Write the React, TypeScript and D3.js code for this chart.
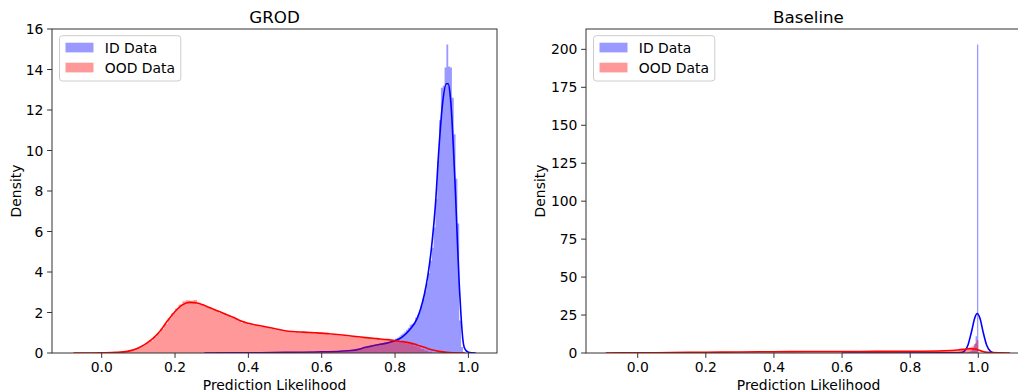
import React from "react";
import * as d3 from "d3";

// ---------- DATA ----------
const legendLabels = ["ID Data", "OOD Data"];
const xTicks = [0, 0.2, 0.4, 0.6, 0.8, 1.0];
const grodYTicks = [0, 2, 4, 6, 8, 10, 12, 14, 16];
const baseYTicks = [0, 25, 50, 75, 100, 125, 150, 175, 200];

// GROD: ID histogram (two segments with different bin widths)
const grodIdLowStart = 0.28;
const grodIdLowWidth = 0.01;
const grodIdLow = [
  0.01, 0.01, 0.0, 0.01, 0.02, 0.01, 0.01, 0.02, 0.01, 0.02,
  0.02, 0.01, 0.02, 0.02, 0.03, 0.02, 0.02, 0.03, 0.03, 0.02,
  0.03, 0.04, 0.03, 0.04, 0.05, 0.04, 0.05, 0.05, 0.06, 0.05,
  0.06, 0.07, 0.06, 0.08, 0.08, 0.09, 0.1, 0.11, 0.12, 0.14, 0.16, 0.18,
];
const grodIdHighStart = 0.7;
const grodIdHighWidth = 0.005;
const grodIdHigh = [
  0.22, 0.25, 0.28, 0.3, 0.33, 0.36, 0.38, 0.41, 0.4, 0.43,
  0.45, 0.47, 0.46, 0.5, 0.52, 0.51, 0.56, 0.58, 0.62, 0.66,
  0.7, 0.75, 0.82, 0.9, 0.96, 1.05, 1.15, 1.25, 1.4, 1.45,
  1.5, 1.75, 1.85, 2.05, 2.35, 2.7, 3.05, 3.45, 3.95, 4.55,
  5.2, 6.2, 7.6, 9.5, 11.5, 13.1, 13.2, 14.1, 15.24, 14.15,
  14.1, 12.6, 10.8, 8.6, 6.4, 1.6, 0.3, 0.06, 0.02, 0.0,
];
// GROD: OOD histogram
const grodOodStart = 0.0;
const grodOodWidth = 0.01;
const grodOod = [
  0.01, 0.01, 0.02, 0.02, 0.03, 0.05, 0.06, 0.1, 0.14, 0.2,
  0.28, 0.38, 0.5, 0.62, 0.8, 0.98, 1.2, 1.45, 1.72, 1.98,
  2.2, 2.4, 2.55, 2.6, 2.58, 2.62, 2.5, 2.42, 2.28, 2.25,
  2.12, 2.1, 1.98, 1.95, 1.85, 1.75, 1.72, 1.6, 1.5, 1.48,
  1.42, 1.36, 1.38, 1.3, 1.28, 1.25, 1.2, 1.15, 1.12, 1.08,
  1.06, 1.07, 1.02, 1.05, 1.0, 1.02, 0.98, 1.0, 0.96, 0.97,
  0.94, 0.95, 0.9, 0.92, 0.88, 0.86, 0.85, 0.82, 0.8, 0.8,
  0.77, 0.76, 0.73, 0.72, 0.7, 0.68, 0.66, 0.64, 0.62, 0.6,
  0.57, 0.55, 0.52, 0.48, 0.44, 0.36, 0.28, 0.2, 0.12, 0.06,
];
// GROD KDE curves
const grodIdKdeX = [0.28, 0.4, 0.5, 0.6, 0.65, 0.68, 0.7, 0.72, 0.74, 0.76, 0.78, 0.8, 0.82, 0.84, 0.86, 0.87, 0.88, 0.89, 0.9, 0.91, 0.92, 0.93, 0.94, 0.945, 0.95, 0.955, 0.96, 0.965, 0.97, 0.975, 0.98, 0.985, 0.99, 1.0, 1.02];
const grodIdKdeY = [0.0, 0.01, 0.03, 0.06, 0.09, 0.12, 0.18, 0.28, 0.36, 0.43, 0.5, 0.6, 0.8, 1.15, 1.7, 2.2, 2.9, 3.9, 5.3, 7.3, 10.2, 12.4, 13.3, 13.3, 12.8, 11.6, 9.8, 7.8, 5.5, 3.4, 1.8, 0.65, 0.22, 0.04, 0.0];
const grodOodKdeX = [-0.077, -0.04, 0.0, 0.04, 0.07, 0.1, 0.12, 0.14, 0.16, 0.18, 0.2, 0.22, 0.24, 0.26, 0.28, 0.3, 0.32, 0.34, 0.36, 0.38, 0.4, 0.42, 0.44, 0.46, 0.48, 0.5, 0.52, 0.55, 0.58, 0.6, 0.62, 0.65, 0.68, 0.7, 0.72, 0.75, 0.78, 0.8, 0.82, 0.84, 0.86, 0.88, 0.9, 0.92, 0.94, 0.96, 0.99];
const grodOodKdeY = [0.0, 0.0, 0.01, 0.03, 0.08, 0.25, 0.45, 0.72, 1.1, 1.6, 2.05, 2.38, 2.5, 2.47, 2.35, 2.2, 2.05, 1.9, 1.75, 1.58, 1.47, 1.38, 1.32, 1.25, 1.17, 1.1, 1.06, 1.03, 1.0, 0.98, 0.95, 0.9, 0.84, 0.8, 0.76, 0.71, 0.66, 0.61, 0.56, 0.5, 0.4, 0.28, 0.16, 0.08, 0.03, 0.01, 0.0];

// Baseline histograms
const baseIdStart = 0.96;
const baseIdWidth = 0.004;
const baseId = [0.2, 0.3, 0.5, 0.8, 1.2, 2.0, 3.5, 6.0, 11.0, 203.2];
const baseOodStart = 0.0;
const baseOodWidth = 0.02;
const baseOod = [
  0.1, 0.12, 0.15, 0.18, 0.2, 0.25, 0.28, 0.32, 0.36, 0.4,
  0.45, 0.5, 0.55, 0.6, 0.65, 0.7, 0.72, 0.76, 0.8, 0.84,
  0.88, 0.9, 0.92, 0.95, 0.96, 0.98, 1.0, 1.0, 1.0, 1.02,
  1.02, 1.04, 1.05, 1.06, 1.08, 1.1, 1.1, 1.12, 1.15, 1.18,
  1.2, 1.25, 1.3, 1.35, 1.45, 1.55, 1.7, 1.95,
];
const baseOodTailStart = 0.96;
const baseOodTailWidth = 0.005;
const baseOodTail = [2.3, 2.6, 3.0, 3.5, 4.2, 5.0, 6.5, 8.4];
// Baseline KDE curves
const baseIdKdeX = [0.6, 0.9, 0.94, 0.95, 0.96, 0.97, 0.98, 0.99, 0.997, 1.005, 1.015, 1.025, 1.035, 1.045, 1.06];
const baseIdKdeY = [0.0, 0.05, 0.12, 0.23, 1.4, 5.5, 14.0, 23.4, 26.0, 22.7, 13.0, 4.9, 1.2, 0.2, 0.01];
const baseOodKdeX = [-0.094, -0.05, 0.0, 0.1, 0.2, 0.3, 0.4, 0.5, 0.6, 0.7, 0.8, 0.9, 0.94, 0.96, 0.975, 0.99, 1.0, 1.01, 1.02, 1.04, 1.06, 1.093];
const baseOodKdeY = [0.0, 0.05, 0.12, 0.3, 0.5, 0.7, 0.85, 0.95, 1.0, 1.05, 1.15, 1.5, 2.0, 2.5, 2.9, 2.6, 2.0, 1.2, 0.6, 0.25, 0.1, 0.02];

// ---------- RENDERING ----------
const FONT = "DejaVu Sans, sans-serif";
const SPINE = "#333";

type Seg = { start: number; width: number; values: number[] };

function stepPoints(segs: Seg[]): [number, number][] {
  const pts: [number, number][] = [];
  segs.forEach((s) => {
    s.values.forEach((v, i) => {
      const x0 = s.start + i * s.width;
      const x1 = x0 + s.width;
      pts.push([x0, v], [x1, v]);
    });
  });
  return pts;
}

type PanelProps = {
  id: string;
  left: number;
  right: number;
  top: number;
  bottom: number;
  xDomain: [number, number];
  yDomain: [number, number];
  yTicks: number[];
  title: string;
  idHist: Seg[][];
  oodHist: Seg[][];
  idKde: [number[], number[]];
  oodKde: [number[], number[]];
};

function Panel(p: PanelProps) {
  const xs = d3.scaleLinear().domain(p.xDomain).range([p.left, p.right]);
  const ys = d3.scaleLinear().domain(p.yDomain).range([p.bottom, p.top]);
  const area = d3
    .area<[number, number]>()
    .x((d) => xs(d[0]))
    .y0(ys(0))
    .y1((d) => ys(d[1]));
  const line = d3
    .line<[number, number]>()
    .x((d) => xs(d[0]))
    .y((d) => ys(d[1]))
    .curve(d3.curveMonotoneX);
  const kdePts = (k: [number[], number[]]) => k[0].map((x, i) => [x, k[1][i]] as [number, number]);
  const clipId = `clip-${p.id}`;
  const lx = p.left + 7.5;
  const ly = p.top + 6.7;
  return (
    <g>
      <defs>
        <clipPath id={clipId}>
          <rect x={p.left} y={p.top} width={p.right - p.left} height={p.bottom - p.top} />
        </clipPath>
      </defs>
      <g clipPath={`url(#${clipId})`}>
        {p.idHist.map((segs, i) => (
          <path key={"ih" + i} d={area(stepPoints(segs)) || ""} fill="#0000ff" fillOpacity={0.4} />
        ))}
        <path d={line(kdePts(p.idKde)) || ""} fill="none" stroke="#0000ff" strokeWidth={1.6} />
        {p.oodHist.map((segs, i) => (
          <path key={"oh" + i} d={area(stepPoints(segs)) || ""} fill="#ff0000" fillOpacity={0.4} />
        ))}
        <path d={line(kdePts(p.oodKde)) || ""} fill="none" stroke="#ff0000" strokeWidth={1.6} />
      </g>
      {/* spines */}
      <rect x={p.left} y={p.top} width={p.right - p.left} height={p.bottom - p.top} fill="none" stroke={SPINE} strokeWidth={1} />
      {/* x ticks */}
      {xTicks.map((t) => (
        <g key={"x" + t}>
          <line x1={xs(t)} x2={xs(t)} y1={p.bottom} y2={p.bottom + 4.9} stroke={SPINE} strokeWidth={1} />
          <text x={xs(t)} y={p.bottom + 19.3} textAnchor="middle" fontSize={13.9} fontFamily={FONT} fill="#000">
            {d3.format(".1f")(t)}
          </text>
        </g>
      ))}
      {/* y ticks */}
      {p.yTicks.map((t) => (
        <g key={"y" + t}>
          <line x1={p.left - 4.9} x2={p.left} y1={ys(t)} y2={ys(t)} stroke={SPINE} strokeWidth={1} />
          <text x={p.left - 8.6} y={ys(t)} dy="0.36em" textAnchor="end" fontSize={13.9} fontFamily={FONT} fill="#000">
            {String(t)}
          </text>
        </g>
      ))}
      {/* title */}
      <text x={(p.left + Math.min(p.right, 1031)) / 2} y={p.top - 6.5} textAnchor="middle" fontSize={16.7} fontFamily={FONT} fill="#000">
        {p.title}
      </text>
      {/* axis labels */}
      <text x={(p.left + p.right) / 2} y={p.bottom + 37} textAnchor="middle" fontSize={13.9} fontFamily={FONT} fill="#000">
        Prediction Likelihood
      </text>
      <text
        transform={`translate(${p.left - (p.id === "grod" ? 31.5 : 41.5)},${(p.top + p.bottom) / 2}) rotate(-90)`}
        textAnchor="middle"
        fontSize={13.9}
        fontFamily={FONT}
        fill="#000"
      >
        Density
      </text>
      {/* legend */}
      <rect x={lx} y={ly} width={121.3} height={45.3} rx={3} fill="#fff" fillOpacity={0.8} stroke="#cccccc" strokeWidth={1} />
      {legendLabels.map((lab, i) => (
        <g key={lab}>
          <rect x={lx + 6} y={ly + 7 + i * 20} width={28} height={9.7} fill={i === 0 ? "#0000ff" : "#ff0000"} fillOpacity={0.4} />
          <text x={lx + 45.3} y={ly + 17 + i * 20} fontSize={13.9} fontFamily={FONT} fill="#000">
            {lab}
          </text>
        </g>
      ))}
    </g>
  );
}

export default function App() {
  return (
    <svg
      width={1018}
      height={391}
      viewBox="0 0 1018 391"
      style={{ position: "absolute", left: 0, top: 0, background: "#fff" }}
    >
      <rect x={0} y={0} width={1018} height={391} fill="#fff" />
      <Panel
        id="grod"
        left={52}
        right={497}
        top={29}
        bottom={353}
        xDomain={[-0.1355, 1.078]}
        yDomain={[0, 16]}
        yTicks={grodYTicks}
        title="GROD"
        idHist={[[
          { start: grodIdLowStart, width: grodIdLowWidth, values: grodIdLow },
          { start: grodIdHighStart, width: grodIdHighWidth, values: grodIdHigh },
        ]]}
        oodHist={[[{ start: grodOodStart, width: grodOodWidth, values: grodOod }]]}
        idKde={[grodIdKdeX, grodIdKdeY]}
        oodKde={[grodOodKdeX, grodOodKdeY]}
      />
      <Panel
        id="base"
        left={586}
        right={1031}
        top={29}
        bottom={353}
        xDomain={[-0.1518, 1.1547]}
        yDomain={[0, 213.4]}
        yTicks={baseYTicks}
        title="Baseline"
        idHist={[[{ start: baseIdStart, width: baseIdWidth, values: baseId }]]}
        oodHist={[[
          { start: baseOodStart, width: baseOodWidth, values: baseOod },
          { start: baseOodTailStart, width: baseOodTailWidth, values: baseOodTail },
        ]]}
        idKde={[baseIdKdeX, baseIdKdeY]}
        oodKde={[baseOodKdeX, baseOodKdeY]}
      />
    </svg>
  );
}
